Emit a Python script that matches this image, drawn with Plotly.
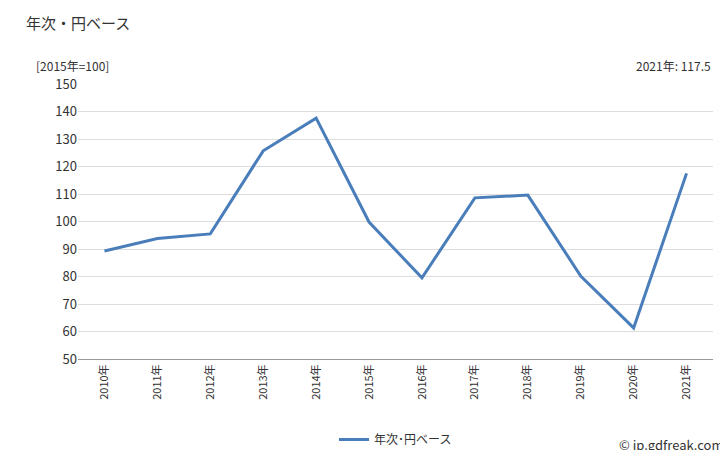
import plotly.graph_objects as go

years = ["2010年","2011年","2012年","2013年","2014年","2015年","2016年","2017年","2018年","2019年","2020年","2021年"]
values = [89.3, 93.8, 95.5, 125.7, 137.6, 99.8, 79.5, 108.6, 109.6, 80.2, 61.3, 117.5]
series_name = "年次･円ベース"

fig = go.Figure()
fig.add_trace(go.Scatter(x=years, y=values, mode="lines", name=series_name,
                         line=dict(color="#4a7ebb", width=3)))
F = "Noto Sans CJK JP"
fig.update_layout(
    width=728, height=450, margin=dict(l=70, r=23, t=76, b=99, autoexpand=False),
    paper_bgcolor="white", plot_bgcolor="white",
    font=dict(family=F, size=12, color="#333"),
    showlegend=True,
    legend=dict(orientation="h", x=0.5, xanchor="center", y=-0.24, yanchor="top", font=dict(size=12)),
    xaxis=dict(type="category", range=[-0.5, 11.5], tickangle=-90, showline=True, linecolor="#999",
               ticks="", tickfont=dict(size=11), showgrid=False, automargin=False),
    yaxis=dict(range=[50, 150], dtick=10, showgrid=True, gridcolor="#ddd", showline=False,
               tickfont=dict(size=13), zeroline=False, automargin=False),
    annotations=[
        dict(text="年次・円ベース", xref="paper", yref="paper", x=-0.085, y=1.27, xanchor="left", yanchor="top", showarrow=False, font=dict(size=15)),
        dict(text="[2015年=100]", xref="paper", yref="paper", x=-0.07, y=1.03, xanchor="left", yanchor="bottom", showarrow=False, font=dict(size=12)),
        dict(text="2021年: 117.5", xref="paper", yref="paper", x=1.0, y=1.03, xanchor="right", yanchor="bottom", showarrow=False, font=dict(size=12)),
        dict(text="© jp.gdfreak.com", xref="paper", yref="paper", x=1.02, y=-0.27, xanchor="right", yanchor="top", showarrow=False, font=dict(size=13)),
    ],
)
fig.write_html("out.html")
